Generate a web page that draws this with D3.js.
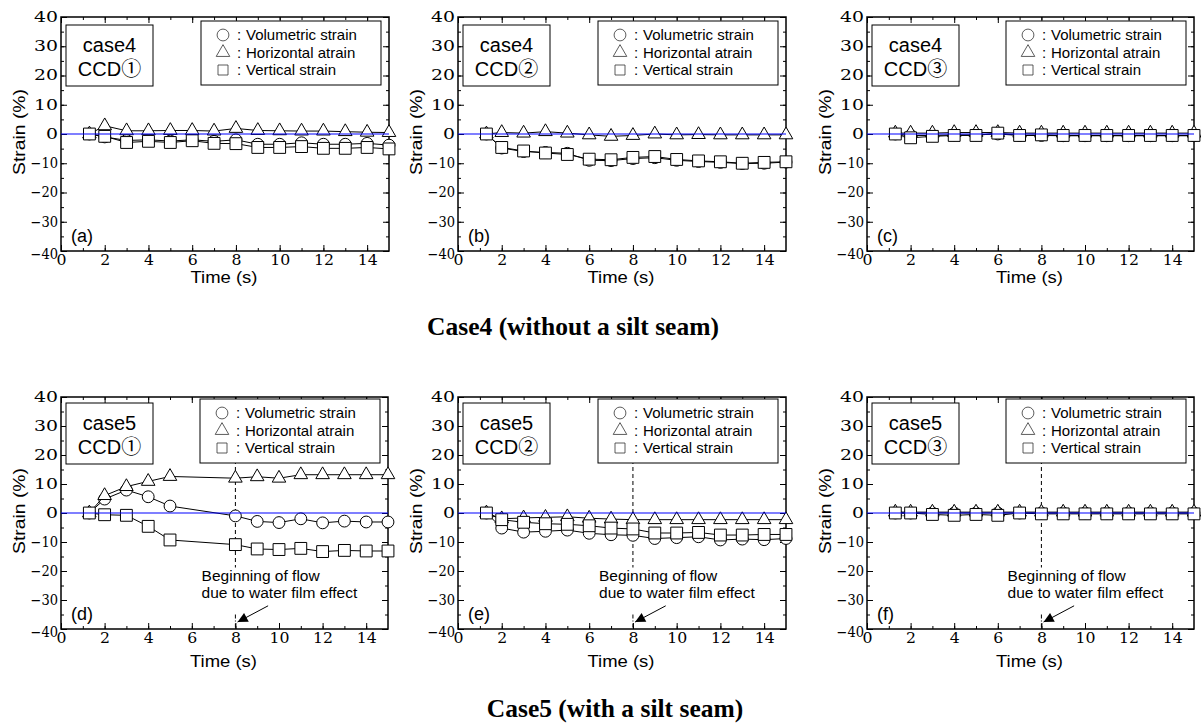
<!DOCTYPE html>
<html>
<head>
<meta charset="utf-8">
<script src="https://d3js.org/d3.v7.min.js"></script>
<style>
  body { margin: 0; background: #fff; }
  svg text { fill: #000; }
  .sans { font-family: "Liberation Sans", Arial, "Noto Sans CJK JP", sans-serif; }
</style>
</head>
<body>
<script>
// time steps (s)
var times = [1.3, 2, 3, 4, 5, 6, 7, 8, 9, 10, 11, 12, 13, 14, 15];
var timesD = [1.3, 2, 3, 4, 5, 8, 9, 10, 11, 12, 13, 14, 15];

// case4 CCD1 (a)
var volA = [0, -1, -2.2, -2, -2.4, -2, -2.5, -2, -3.5, -3.5, -3, -3.5, -3.5, -3.2, -3.8];
var horA = [0, 2.8, 1.1, 1.1, 1.2, 1.2, 1, 1.9, 1.2, 1.1, 1, 1, 0.8, 0.6, 0.5];
var verA = [0, -0.8, -2.9, -2.5, -2.9, -2.3, -3.2, -3.3, -4.6, -4.6, -4.3, -4.9, -4.9, -4.6, -5.1];

// case4 CCD2 (b)
var volB = [0, -4.8, -6.0, -6.3, -6.6, -9.0, -9.1, -8.4, -8.1, -9.0, -9.4, -9.7, -10.1, -10.0, -9.6];
var horB = [0, 0.5, 0.3, 0.8, 0.3, -0.3, -0.8, -0.5, 0, -0.3, -0.2, -0.3, -0.3, -0.3, -0.3];
var verB = [0, -4.6, -5.8, -6.5, -7.0, -8.6, -8.8, -8.0, -7.7, -8.7, -9.2, -9.5, -10.0, -9.7, -9.5];

// case4 CCD3 (c)
var volC = [0, -0.5, -0.5, -0.3, -0.3, 0, -0.5, -0.5, -0.6, -0.6, -0.6, -0.6, -0.6, -0.6, -0.6];
var horC = [0.3, 0.3, 0.3, 0.5, 0.5, 0.5, 0.3, 0.3, 0.3, 0.3, 0.3, 0.3, 0.3, 0.3, 0.3];
var verC = [0, -1.3, -0.8, -0.5, -0.5, 0.3, -0.5, -0.3, -0.5, -0.5, -0.5, -0.5, -0.5, -0.5, -0.5];

// case5 CCD1 (d)
var volD = [0, 4.8, 7.9, 5.6, 2.4, -1.0, -2.9, -3.3, -2.0, -3.4, -2.8, -3.1, -3.1];
var horD = [0, 6.0, 9.1, 10.9, 12.6, 12.0, 12.5, 12.0, 13.2, 13.2, 13.2, 13.2, 13.2];
var verD = [0, -0.6, -0.8, -4.6, -9.3, -10.9, -12.4, -12.6, -12.2, -13.3, -12.9, -13.1, -13.1];

// case5 CCD2 (e)
var volE = [0, -5.2, -6.6, -6.3, -5.9, -7.0, -7.5, -7.7, -8.8, -8.5, -8.2, -9.3, -9.0, -9.2, -8.8];
var horE = [0, -2.0, -1.7, -1.5, -1.3, -1.8, -2.1, -2.3, -2.3, -2.3, -2.3, -2.3, -2.3, -2.3, -2.3];
var verE = [0, -2.3, -3.2, -3.7, -3.9, -4.4, -5.2, -5.5, -6.9, -6.9, -6.7, -7.6, -7.6, -7.4, -7.4];

// case5 CCD3 (f)
var volF = [0, 0, 0, 0, 0, 0, 0, 0, 0, 0, 0, 0, 0, 0, 0];
var horF = [0.3, 0.3, 0.3, 0.3, 0.3, 0.3, 0.3, 0.3, 0.3, 0.3, 0.3, 0.3, 0.3, 0.3, 0.3];
var verF = [0, 0, -0.5, -0.8, -0.5, -0.8, 0, -0.3, -0.3, -0.3, -0.3, -0.3, -0.3, -0.3, -0.3];

var xTicks = [0, 2, 4, 6, 8, 10, 12, 14];
var yTicks = [-40, -30, -20, -10, 0, 10, 20, 30, 40];
var legendNames = ["Volumetric strain", "Horizontal atrain", "Vertical strain"];
var panelTags = ["(a)", "(b)", "(c)", "(d)", "(e)", "(f)"];
var caseNames = ["case4", "case4", "case4", "case5", "case5", "case5"];
var ccdNames = ["CCD\u2460", "CCD\u2461", "CCD\u2462", "CCD\u2460", "CCD\u2461", "CCD\u2462"];
var annotLines = ["Beginning of flow", "due to water film effect"];

var svg = d3.select("body").append("svg")
  .attr("width", 1201).attr("height", 727);

svg.append("defs").append("marker").attr("id", "ahead")
  .attr("viewBox", "0 0 10 10").attr("refX", 10).attr("refY", 5)
  .attr("markerWidth", 14).attr("markerHeight", 10).attr("markerUnits", "userSpaceOnUse")
  .attr("orient", "auto")
  .append("path").attr("d", "M0,0 L10,5 L0,10 z").attr("fill", "#000");

var panels = [
  {x: 61, y: 17, w: 328, h: 234, t: times, s: [volA, horA, verA]},
  {x: 458, y: 17, w: 328, h: 234, t: times, s: [volB, horB, verB]},
  {x: 867, y: 17, w: 327, h: 234, t: times, s: [volC, horC, verC]},
  {x: 61, y: 397, w: 327, h: 232, t: timesD, s: [volD, horD, verD], flow: true},
  {x: 458, y: 397, w: 328, h: 232, t: times, s: [volE, horE, verE], flow: true},
  {x: 867, y: 397, w: 327, h: 232, t: times, s: [volF, horF, verF], flow: true}
];

var symbols = [d3.symbolCircle, d3.symbolTriangle, d3.symbolSquare];
var symSize = [110, 80, 140];
var legSize = [110, 80, 100];

// width of a serif tick label (the figure uses wide numerals)
function labelLen(s, digitW) {
  var n = 0;
  for (var c of s) n += (c === "-" ? 3.5 : digitW);
  return n;
}

panels.forEach(function(p, i) {
  var g = svg.append("g").attr("transform", "translate(" + p.x + "," + p.y + ")");
  var x = d3.scaleLinear().domain([0, 15]).range([0, p.w]);
  var y = d3.scaleLinear().domain([-40, 40]).range([p.h, 0]);

  // ticks on all four sides, pointing inward
  var minorX = d3.range(1, 15, 1), minorY = d3.range(-35, 40, 5);
  g.append("g").attr("transform", "translate(0," + p.h + ")")
    .call(d3.axisBottom(x).tickValues(minorX).tickSize(-3).tickFormat(""));
  var xa = g.append("g").attr("transform", "translate(0," + p.h + ")")
    .call(d3.axisBottom(x).tickValues(xTicks).tickSize(-6).tickPadding(4).tickFormat(d3.format("d")));
  g.append("g").call(d3.axisTop(x).tickValues(minorX).tickSize(-3).tickFormat(""));
  g.append("g").call(d3.axisTop(x).tickValues(xTicks).tickSize(-6).tickFormat(""));
  g.append("g").call(d3.axisLeft(y).tickValues(minorY).tickSize(-3).tickFormat(""));
  var ya = g.append("g").call(d3.axisLeft(y).tickValues(yTicks).tickSize(-6).tickPadding(3).tickFormat(d3.format("d")));
  g.append("g").attr("transform", "translate(" + p.w + ",0)")
    .call(d3.axisRight(y).tickValues(minorY).tickSize(-3).tickFormat(""));
  g.append("g").attr("transform", "translate(" + p.w + ",0)")
    .call(d3.axisRight(y).tickValues(yTicks).tickSize(-6).tickFormat(""));
  g.selectAll(".domain").remove();
  g.selectAll(".tick line").attr("stroke", "#000").attr("stroke-width", 1);

  xa.attr("font-size", 14).attr("font-family", "'DejaVu Serif', serif");
  ya.attr("font-size", 14).attr("font-family", "'DejaVu Serif', serif");
  xa.selectAll(".tick text")
    .attr("lengthAdjust", "spacingAndGlyphs")
    .attr("textLength", function(d) { return labelLen(String(d), 10); });
  ya.selectAll(".tick text")
    .attr("lengthAdjust", "spacingAndGlyphs")
    .attr("textLength", function(d) { return labelLen(String(d), 12); })
    .attr("dy", function(d) { return d === -40 ? "0.55em" : "0.32em"; });

  g.append("rect").attr("width", p.w).attr("height", p.h)
    .attr("fill", "none").attr("stroke", "#000").attr("stroke-width", 1.5);

  // axis titles
  g.append("text").attr("class", "sans").attr("x", p.w / 2 - 1).attr("y", p.h + (i < 3 ? 32 : 38))
    .attr("text-anchor", "middle").style("font-size", "17px")
    .attr("textLength", 67).attr("lengthAdjust", "spacingAndGlyphs").text("Time (s)");
  g.append("text").attr("class", "sans")
    .attr("transform", "translate(-36," + (p.h / 2 - 2) + ") rotate(-90)")
    .attr("text-anchor", "middle").style("font-size", "17px")
    .attr("textLength", 86).attr("lengthAdjust", "spacingAndGlyphs").text("Strain (%)");

  // water film flow marker
  if (p.flow) {
    g.append("line").attr("x1", x(8)).attr("x2", x(8)).attr("y1", 0).attr("y2", y(-18.8))
      .attr("stroke", "#000").attr("stroke-dasharray", "4,3");
    g.append("line").attr("x1", x(8)).attr("x2", x(8)).attr("y1", y(-35)).attr("y2", p.h)
      .attr("stroke", "#000").attr("stroke-dasharray", "4,2,1,2");
    annotLines.forEach(function(t, k) {
      g.append("text").attr("class", "sans").attr("x", x(6.45)).attr("y", y(-23.5 - 5.8 * k))
        .style("font-size", "15.5px").text(t);
    });
    g.append("line").attr("x1", x(9.5)).attr("y1", y(-32)).attr("x2", x(8.1)).attr("y2", y(-37.6))
      .attr("stroke", "#000").attr("marker-end", "url(#ahead)");
  }

  // series: line + markers
  var line = d3.line().x(function(d) { return x(d[0]); }).y(function(d) { return y(d[1]); });
  p.s.forEach(function(vals, k) {
    var pts = p.t.map(function(t, j) { return [t, vals[j]]; });
    g.append("path").datum(pts).attr("d", line)
      .attr("fill", "none").attr("stroke", "#000").attr("stroke-width", 1);
    g.selectAll(".m" + k).data(pts).enter().append("path")
      .attr("transform", function(d) { return "translate(" + x(d[0]) + "," + y(d[1]) + ")"; })
      .attr("d", d3.symbol().type(symbols[k]).size(symSize[k]))
      .attr("fill", "#fff").attr("stroke", "#000").attr("stroke-width", 1);
  });

  // zero reference line
  g.append("line").attr("x1", 0).attr("x2", p.w).attr("y1", y(0)).attr("y2", y(0))
    .attr("stroke", "#0000ff").attr("stroke-width", 1.2);

  // case box
  var cb = g.append("g").attr("transform", "translate(5," + (i < 3 ? 8 : 6) + ")");
  cb.append("rect").attr("width", 87).attr("height", 61)
    .attr("fill", "#fff").attr("stroke", "#000").attr("stroke-width", 1);
  cb.append("text").attr("class", "sans").attr("x", 43.5).attr("y", 27)
    .attr("text-anchor", "middle").style("font-size", "20px").text(caseNames[i]);
  cb.append("text").attr("class", "sans").attr("x", 43.5).attr("y", 51)
    .attr("text-anchor", "middle").style("font-size", "20px").text(ccdNames[i]);

  // legend box
  var lg = g.append("g").attr("transform", "translate(" + (p.w - 188) + "," + (i < 3 ? 4 : 2) + ")");
  lg.append("rect").attr("width", 180).attr("height", 64)
    .attr("fill", "#fff").attr("stroke", "#000").attr("stroke-width", 1);
  legendNames.forEach(function(n, k) {
    lg.append("path").attr("transform", "translate(22," + (14 + 17.5 * k) + ")")
      .attr("d", d3.symbol().type(symbols[k]).size(legSize[k]))
      .attr("fill", "#fff").attr("stroke", "#333").attr("stroke-width", 0.8);
    lg.append("text").attr("class", "sans").attr("x", 36).attr("y", 19 + 17.5 * k)
      .style("font-size", "15px").text(":");
    lg.append("text").attr("class", "sans").attr("x", 45).attr("y", 19 + 17.5 * k)
      .style("font-size", "15px").text(n);
  });

  // panel tag
  g.append("text").attr("class", "sans").attr("x", 10).attr("y", p.h - 9)
    .style("font-size", "18px").text(panelTags[i]);
});

// row titles
svg.append("text").attr("x", 573).attr("y", 335).attr("text-anchor", "middle")
  .style("font", "bold 25.5px 'Liberation Serif', 'Times New Roman', serif").text("Case4 (without a silt seam)");
svg.append("text").attr("x", 615).attr("y", 717).attr("text-anchor", "middle")
  .style("font", "bold 25.5px 'Liberation Serif', 'Times New Roman', serif").text("Case5 (with a silt seam)");
</script>
</body>
</html>
